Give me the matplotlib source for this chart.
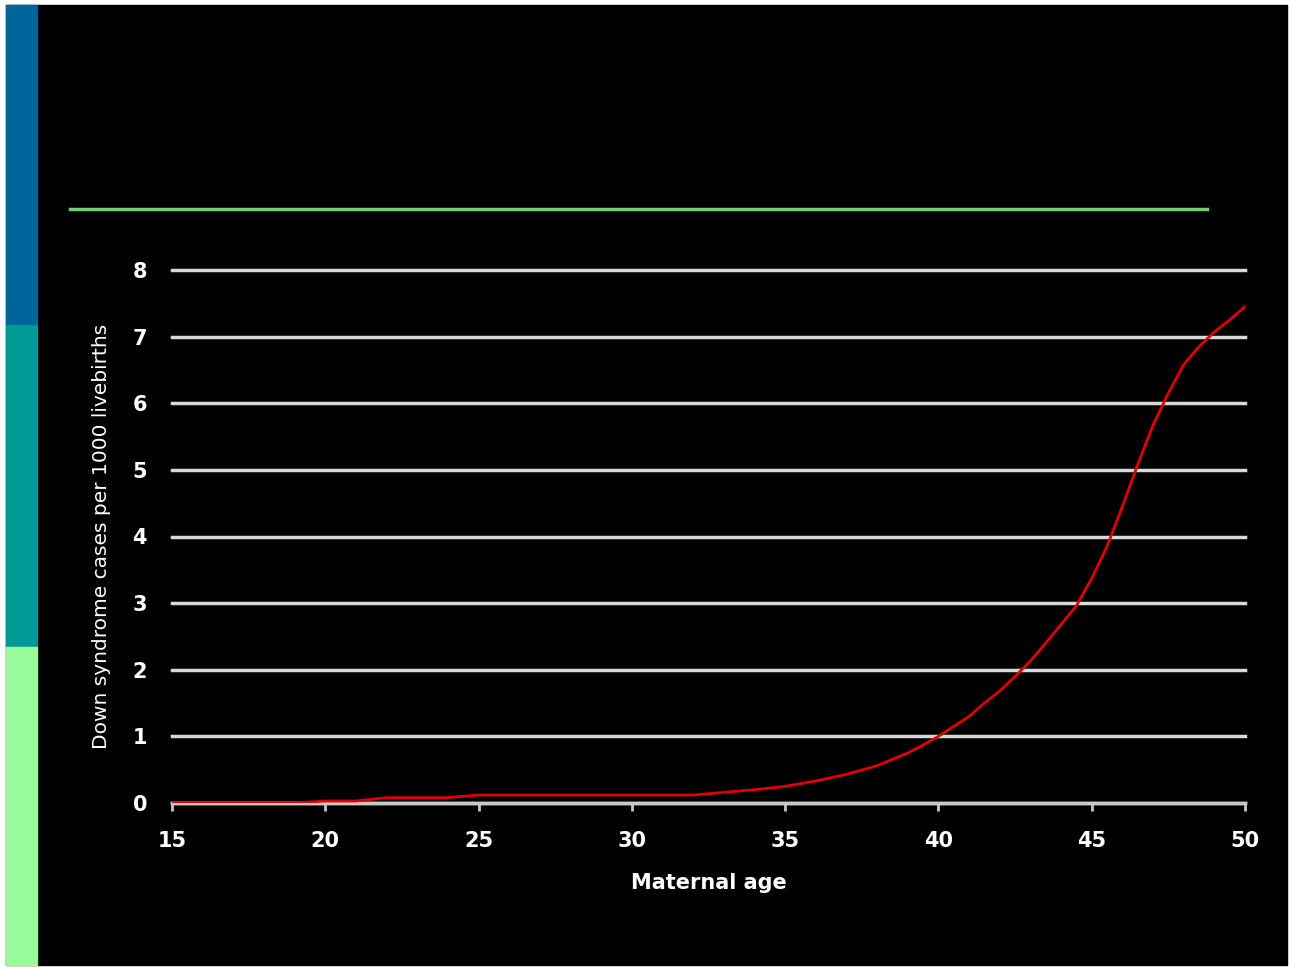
import matplotlib.pyplot as plt
from matplotlib.patches import Rectangle

# Down syndrome cases per 1000 livebirths by maternal age
ages = [15, 16, 17, 18, 19, 20, 21, 22, 23, 24, 25, 26, 27, 28, 29, 30, 31, 32,
        33, 34, 35, 36, 37, 38, 39, 39.5, 40, 40.5, 41, 41.5, 42, 42.5, 43, 43.5,
        44, 44.5, 45, 45.5, 46, 46.5, 47, 47.5, 48, 48.5, 49, 49.5, 50]
cases = [0.0, 0.0, 0.0, 0.0, 0.0, 0.03, 0.03, 0.08, 0.08, 0.08, 0.12, 0.12, 0.12,
         0.12, 0.12, 0.12, 0.12, 0.12, 0.16, 0.2, 0.25, 0.33, 0.43, 0.56, 0.75,
         0.87, 1.0, 1.15, 1.3, 1.5, 1.68, 1.9, 2.13, 2.4, 2.68, 2.96, 3.37, 3.85,
         4.45, 5.08, 5.67, 6.15, 6.58, 6.85, 7.07, 7.25, 7.45]

x_ticks = [15, 20, 25, 30, 35, 40, 45, 50]
y_ticks = [0, 1, 2, 3, 4, 5, 6, 7, 8]

W, H = 1289, 967
fig = plt.figure(figsize=(W / 100, H / 100), dpi=100, facecolor='white')

def px_rect(x0, y0, x1, y1, color):
    # rectangle in figure pixel coords (y measured from top)
    fig.patches.append(Rectangle((x0 / W, 1 - y1 / H), (x1 - x0) / W, (y1 - y0) / H,
                                 transform=fig.transFigure, color=color, zorder=-10))

px_rect(6, 5, 1287, 965, 'black')
px_rect(6, 5, 37, 325, '#00639a')
px_rect(6, 325, 37, 647, '#009a96')
px_rect(6, 647, 37, 965, '#99fa99')

# green rule under the (empty) title area
fig.add_artist(plt.Line2D([70 / W, 1207 / W], [1 - 209 / H, 1 - 209 / H],
                          transform=fig.transFigure, color='#6fd06f', lw=2.5, zorder=-5))

ax = fig.add_axes([172 / W, 1 - 803 / H, (1245 - 172) / W, (803 - 270) / H])
ax.set_facecolor('black')
ax.patch.set_alpha(0)
ax.plot(ages, cases, color='#e00000', lw=2, zorder=3)

ax.set_xlim(15, 50)
ax.set_ylim(0, 8)
ax.set_xticks(x_ticks)
ax.set_yticks(y_ticks)
ax.grid(axis='y', color='#d8d8d8', lw=2.5)
for gl in ax.yaxis.get_gridlines():
    gl.set_clip_on(False)
ax.set_axisbelow(True)
for side in ['top', 'right', 'left']:
    ax.spines[side].set_visible(False)
ax.spines['bottom'].set_color('#c8c8c8')
ax.spines['bottom'].set_linewidth(2.5)
ax.tick_params(axis='x', direction='out', length=6, width=2, color='#c8c8c8',
               labelcolor='white', labelsize=15, pad=14)
ax.tick_params(axis='y', length=0, labelcolor='white', labelsize=15, pad=18)
for lab in ax.get_xticklabels() + ax.get_yticklabels():
    lab.set_fontweight('bold')

ax.set_xlabel('Maternal age', color='white', fontsize=15, fontweight='bold', labelpad=16)
ax.set_ylabel('Down syndrome cases per 1000 livebirths', color='white', fontsize=14.5,
              family=['Liberation Sans Narrow', 'DejaVu Sans'])
ax.yaxis.set_label_coords(-0.057, 0.5)

fig.savefig('out.png', dpi=100, facecolor='white')
